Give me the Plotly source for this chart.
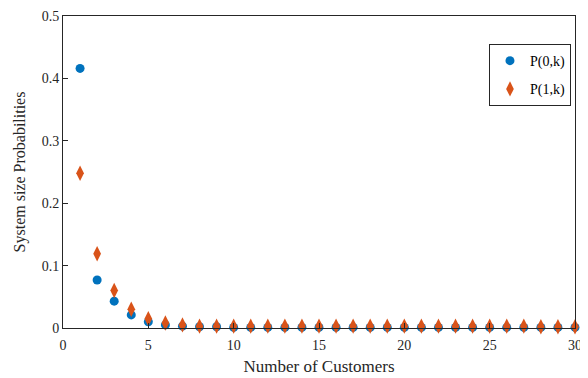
import plotly.graph_objects as go

k = list(range(1, 31))
p0 = [0.416, 0.077, 0.043, 0.021, 0.010, 0.005, 0.003, 0.002, 0.002, 0.001,
      0.001, 0.001, 0.001, 0.001, 0.001, 0.001, 0.001, 0.001, 0.001, 0.001,
      0.001, 0.001, 0.001, 0.001, 0.001, 0.001, 0.001, 0.001, 0.001, 0.001]
p1 = [0.248, 0.119, 0.060, 0.030, 0.015, 0.008, 0.005, 0.003, 0.003, 0.003,
      0.003, 0.003, 0.003, 0.003, 0.003, 0.003, 0.003, 0.003, 0.003, 0.003,
      0.003, 0.003, 0.003, 0.003, 0.003, 0.003, 0.003, 0.002, 0.002, 0.002]
x_ticks = [0, 5, 10, 15, 20, 25, 30]
y_ticks = [0, 0.1, 0.2, 0.3, 0.4, 0.5]
y_tick_text = ["0", "0.1", "0.2", "0.3", "0.4", "0.5"]

fig = go.Figure()
fig.add_trace(go.Scatter(x=k, y=p0, mode="markers", name="P(0,k)", legendgroup="a",
                         marker=dict(symbol="circle", size=9, color="#0072BD"), cliponaxis=False))
fig.add_trace(go.Scatter(x=k, y=p1, mode="markers", name="P(1,k)", legendgroup="b",
                         marker=dict(symbol="diamond-tall", size=11, color="#D95319"), cliponaxis=False))

axis_common = dict(showline=True, linecolor="#262626", linewidth=1, mirror=True, automargin=False,
                   ticks="inside", ticklen=5, tickcolor="#262626", showgrid=False, zeroline=False,
                   tickfont=dict(family="Liberation Serif", size=14, color="#262626"))
fig.update_xaxes(range=[0, 30], tickvals=x_ticks, ticklabelstandoff=4,
                 title=dict(text="Number of Customers", font=dict(family="Liberation Serif", size=17, color="#262626"), standoff=8),
                 **axis_common)
fig.update_yaxes(range=[0, 0.5], tickvals=y_ticks, ticktext=y_tick_text,
                 title=dict(text="System size Probabilities", font=dict(family="Liberation Serif", size=16, color="#262626"), standoff=12),
                 **axis_common)
fig.update_layout(
    width=580, height=370,
    margin=dict(l=55, r=13, t=8, b=50),
    plot_bgcolor="white", paper_bgcolor="white",
    showlegend=True,
    legend=dict(x=0.832, y=0.91, xanchor="left", yanchor="top",
                bordercolor="#262626", borderwidth=1, bgcolor="white",
                font=dict(family="Liberation Serif", size=14, color="#000000"),
                traceorder="grouped", tracegroupgap=7, itemwidth=30),
)
fig.write_html("out.html")
